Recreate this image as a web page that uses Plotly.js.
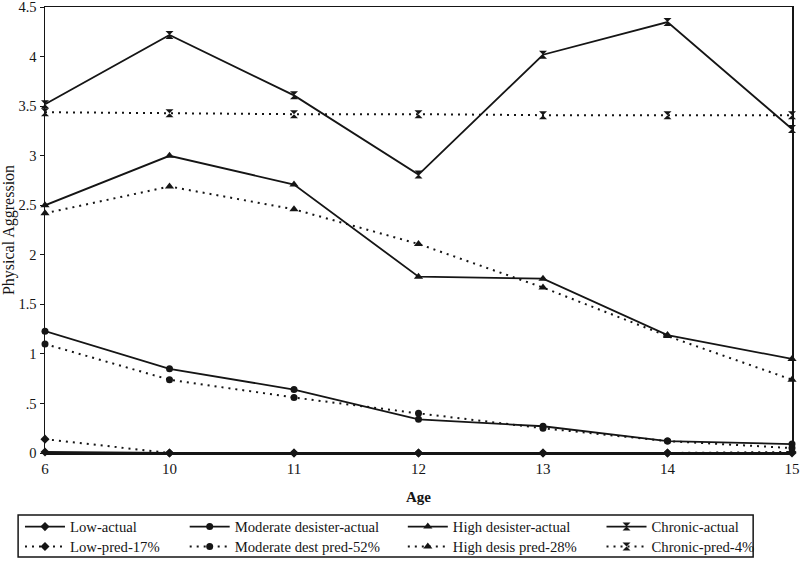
<!DOCTYPE html>
<html>
<head>
<meta charset="utf-8">
<script src="https://cdn.plot.ly/plotly-3.0.1.min.js"></script>
<style>html,body{margin:0;padding:0;background:#fff;}#chart{width:800px;height:562px;}</style>
</head>
<body>
<div id="chart"></div>
<script>
var ages = ['6', '10', '11', '12', '13', '14', '15'];
var lowActual = [0.01, 0, 0, 0, 0, 0, 0];
var lowPred = [0.14, 0.0, 0.0, 0.0, 0.0, 0.0, 0.01];
var modActual = [1.23, 0.85, 0.64, 0.34, 0.27, 0.12, 0.09];
var modPred = [1.10, 0.74, 0.56, 0.40, 0.25, 0.12, 0.05];
var highActual = [2.50, 3.00, 2.71, 1.78, 1.76, 1.19, 0.95];
var highPred = [2.42, 2.69, 2.46, 2.11, 1.67, 1.18, 0.74];
var chronicActual = [3.52, 4.22, 3.61, 2.81, 4.02, 4.35, 3.27];
var chronicPred = [3.44, 3.43, 3.42, 3.42, 3.41, 3.41, 3.41];
var seriesNames = ['Low-actual', 'Moderate desister-actual', 'High desister-actual', 'Chronic-actual',
                   'Low-pred-17%', 'Moderate dest pred-52%', 'High desis pred-28%', 'Chronic-pred-4%'];
var yTickVals = [0, 0.5, 1, 1.5, 2, 2.5, 3, 3.5, 4, 4.5];
var yTickText = ['0', '.5', '1', '1.5', '2', '2.5', '3', '3.5', '4', '4.5'];

var ink = '#151515';
var serif = 'Liberation Serif, DejaVu Serif, serif';

function tr(y, name, symbol, size, dashed, legendId) {
  return {
    x: ages, y: y, name: name, type: 'scatter', mode: 'lines+markers',
    cliponaxis: false,
    legend: legendId,
    line: {color: ink, width: dashed ? 2 : 1.8, dash: dashed ? '2px,5px' : 'solid'},
    marker: {symbol: symbol, size: size, color: ink}
  };
}

var data = [
  tr(lowActual, seriesNames[0], 'diamond', 7, false, 'legend'),
  tr(lowPred, seriesNames[4], 'diamond', 7, true, 'legend5'),
  tr(modActual, seriesNames[1], 'circle', 7, false, 'legend2'),
  tr(modPred, seriesNames[5], 'circle', 7, true, 'legend6'),
  tr(highActual, seriesNames[2], 'triangle-up', 8, false, 'legend3'),
  tr(highPred, seriesNames[6], 'triangle-up', 8, true, 'legend7'),
  tr(chronicActual, seriesNames[3], 'hourglass', 8, false, 'legend4'),
  tr(chronicPred, seriesNames[7], 'hourglass', 8, true, 'legend8')
];

function leg(x, y) {
  return {x: x, y: y, xanchor: 'left', yanchor: 'middle', orientation: 'v',
          bgcolor: 'rgba(0,0,0,0)', borderwidth: 0, itemwidth: 40,
          font: {family: serif, size: 14.7, color: ink}};
}
var row1 = -0.166, row2 = -0.2108;
var cols = [-0.0335, 0.187, 0.479, 0.745];

var layout = {
  width: 800, height: 562,
  margin: {l: 45, r: 8, t: 7, b: 109, autoexpand: false},
  paper_bgcolor: '#fff', plot_bgcolor: '#fff',
  showlegend: true,
  font: {family: serif, color: ink, size: 14},
  xaxis: {
    type: 'category', range: [0, 6], showgrid: false, zeroline: false,
    showline: true, mirror: true, linecolor: ink, linewidth: 1.5,
    ticks: 'outside', ticklen: 1, tickcolor: 'rgba(0,0,0,0)',
    tickfont: {family: serif, size: 15, color: ink},
    title: {text: '<b>Age</b>', font: {family: serif, size: 15, color: ink}, standoff: 16}
  },
  yaxis: {
    range: [0, 4.502], showgrid: false, zeroline: false,
    showline: true, mirror: true, linecolor: ink, linewidth: 1.5,
    tickvals: yTickVals, ticktext: yTickText,
    ticks: 'outside', ticklen: 4, tickcolor: ink,
    ticklabeloverflow: 'allow',
    tickfont: {family: serif, size: 14.5, color: ink},
    title: {text: 'Physical Aggression', font: {family: serif, size: 16, color: ink}, standoff: 4}
  },
  legend: leg(cols[0], row1),
  legend2: leg(cols[1], row1),
  legend3: leg(cols[2], row1),
  legend4: leg(cols[3], row1),
  legend5: leg(cols[0], row2),
  legend6: leg(cols[1], row2),
  legend7: leg(cols[2], row2),
  legend8: leg(cols[3], row2),
  shapes: [{type: 'rect', xref: 'paper', yref: 'paper',
            x0: -0.036, x1: 0.948, y0: -0.233, y1: -0.139,
            line: {color: ink, width: 1.5}, fillcolor: 'rgba(0,0,0,0)'}]
};

Plotly.newPlot('chart', data, layout, {displayModeBar: false, staticPlot: true});
</script>
</body>
</html>
